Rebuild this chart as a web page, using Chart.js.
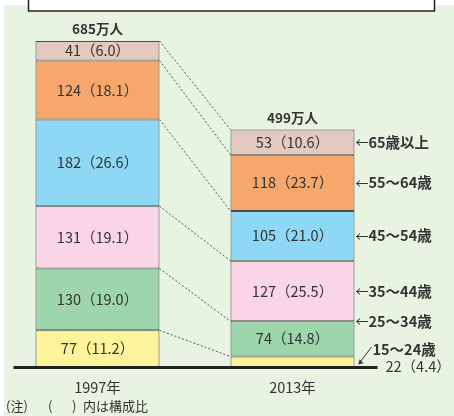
<!DOCTYPE html>
<html>
<head>
<meta charset="utf-8">
<script src="https://cdn.jsdelivr.net/npm/chart.js@4"></script>
<style>
  body { margin: 0; background: #fff; }
  #wrap { width: 454px; height: 416px; }
</style>
</head>
<body>
<div id="wrap"><canvas id="myChart" width="454" height="416"></canvas></div>
<script>
const years = ["1997年", "2013年"];
const ageGroups = ["15〜24歳", "25〜34歳", "35〜44歳", "45〜54歳", "55〜64歳", "65歳以上"];
const workers1997 = [77, 130, 131, 182, 124, 41];
const workers2013 = [22, 74, 127, 105, 118, 53];
const share1997 = ["11.2", "19.0", "19.1", "26.6", "18.1", "6.0"];
const share2013 = ["4.4", "14.8", "25.5", "21.0", "23.7", "10.6"];
const totals = [685, 499];
const colors = ["#fdf39b", "#9dd5ad", "#f9d5e6", "#8ed8f6", "#f6a86c", "#e4c9c0"];

const FONT = '"Noto Sans CJK JP", "Noto Sans", sans-serif';
const chart = document.getElementById("myChart");

const datasets = ageGroups.map((age, i) => ({
  label: age,
  data: [workers1997[i], workers2013[i]],
  backgroundColor: colors[i],
  borderColor: "#4a4a4a",
  borderWidth: 1,
  borderSkipped: false,
  barPercentage: 1,
  categoryPercentage: 0.636,
}));

// green panel + white box on top
const backgroundPlugin = {
  id: "panel",
  beforeDraw(c) {
    const ctx = c.ctx;
    ctx.save();
    ctx.fillStyle = "#fff";
    ctx.fillRect(0, 0, c.width, c.height);
    ctx.fillStyle = "#e8f3e2";
    ctx.fillRect(4, 5, c.width - 4, c.height - 5);
    ctx.fillStyle = "#fff";
    ctx.fillRect(28, -2, 407, 13);
    ctx.strokeStyle = "#222";
    ctx.lineWidth = 1.5;
    ctx.strokeRect(28.5, -2, 406, 13);
    ctx.restore();
  },
};

// dotted connectors, labels, baseline
const annotatePlugin = {
  id: "annotate",
  afterDatasetsDraw(c) {
    const ctx = c.ctx;
    const y = c.scales.y;
    const meta0 = c.getDatasetMeta(0);
    const bar1 = meta0.data[0];
    const bar2 = meta0.data[1];
    const half = bar1.width / 2;
    const x1r = bar1.x + half;
    const x2l = bar2.x - half;
    const x2r = bar2.x + half;

    // connectors
    ctx.save();
    ctx.strokeStyle = "#555";
    ctx.lineWidth = 1;
    ctx.setLineDash([2, 2]);
    let s1 = 0, s2 = 0;
    for (let i = 0; i < ageGroups.length; i++) {
      s1 += workers1997[i];
      s2 += workers2013[i];
      ctx.beginPath();
      ctx.moveTo(x1r, y.getPixelForValue(s1));
      ctx.lineTo(x2l, y.getPixelForValue(s2));
      ctx.stroke();
    }
    ctx.restore();

    // segment labels
    ctx.save();
    ctx.fillStyle = "#333";
    ctx.font = "14.5px " + FONT;
    ctx.textAlign = "center";
    ctx.textBaseline = "middle";
    s1 = 0; s2 = 0;
    for (let i = 0; i < ageGroups.length; i++) {
      const m1 = y.getPixelForValue(s1 + workers1997[i] / 2);
      ctx.fillText(workers1997[i] + "（" + share1997[i] + "）", bar1.x, m1);
      if (i > 0) {
        const m2 = y.getPixelForValue(s2 + workers2013[i] / 2);
        ctx.fillText(workers2013[i] + "（" + share2013[i] + "）", bar2.x, m2);
      }
      s1 += workers1997[i];
      s2 += workers2013[i];
    }
    ctx.textAlign = "left";
    ctx.fillText(workers2013[0] + "（" + share2013[0] + "）", x2r + 31, y.getPixelForValue(0) - 1);
    ctx.restore();

    // totals and years
    ctx.save();
    ctx.fillStyle = "#333";
    ctx.textAlign = "center";
    ctx.textBaseline = "middle";
    ctx.font = "bold 13.5px " + FONT;
    [bar1, bar2].forEach((b, k) => {
      ctx.fillText(totals[k] + "万人", b.x, y.getPixelForValue(totals[k]) - 12);
    });
    ctx.font = "14.5px " + FONT;
    [bar1, bar2].forEach((b, k) => {
      ctx.fillText(years[k], b.x, y.getPixelForValue(0) + 20);
    });
    ctx.textAlign = "left";
    ctx.font = "13px " + FONT;
    ctx.fillText("(注)", 6, 406);
    ctx.fillText("(", 48, 406);
    ctx.fillText(")", 72, 406);
    ctx.fillText("内は構成比", 83, 406);
    ctx.restore();

    // age labels on the right
    ctx.save();
    ctx.fillStyle = "#333";
    ctx.strokeStyle = "#333";
    ctx.textAlign = "left";
    ctx.textBaseline = "middle";
    const labelY15 = 349;
    s2 = 0;
    for (let i = 0; i < ageGroups.length; i++) {
      const mid = y.getPixelForValue(s2 + workers2013[i] / 2);
      s2 += workers2013[i];
      ctx.font = "bold 14.5px " + FONT;
      if (i === 0) {
        ctx.fillText(ageGroups[i], x2r + 18, labelY15);
        ctx.lineWidth = 1;
        ctx.beginPath();
        ctx.moveTo(x2r + 17, labelY15 - 2);
        ctx.lineTo(x2r + 4, y.getPixelForValue(6));
        ctx.stroke();
        continue;
      }
      const ly = i === 1 ? y.getPixelForValue(s2) : mid;
      ctx.fillText(ageGroups[i], x2r + 14, ly);
      ctx.font = "13px " + FONT;
      ctx.fillText("←", x2r + 1, ly);
    }
    // small arrow head for 15-24
    const hx = x2r + 4, hy = y.getPixelForValue(6);
    ctx.beginPath();
    ctx.moveTo(hx, hy);
    ctx.lineTo(hx + 1, hy - 5);
    ctx.lineTo(hx + 5, hy - 1);
    ctx.closePath();
    ctx.fill();
    ctx.restore();

    // baseline
    ctx.save();
    ctx.strokeStyle = "#222";
    ctx.lineWidth = 3;
    ctx.beginPath();
    ctx.moveTo(bar1.x - half - 22, y.getPixelForValue(0) + 0.5);
    ctx.lineTo(x2r + 23, y.getPixelForValue(0) + 0.5);
    ctx.stroke();
    ctx.restore();
  },
};

window.myChart = new Chart(chart, {
  type: "bar",
  data: { labels: years, datasets },
  options: {
    responsive: false,
    animation: false,
    layout: { padding: { left: 0, right: 64, top: 41, bottom: 49 } },
    plugins: { legend: { display: false }, tooltip: { enabled: false } },
    scales: {
      x: { stacked: true, display: false },
      y: { stacked: true, display: false, min: 0, max: 685 },
    },
  },
  plugins: [backgroundPlugin, annotatePlugin],
});
</script>
</body>
</html>
